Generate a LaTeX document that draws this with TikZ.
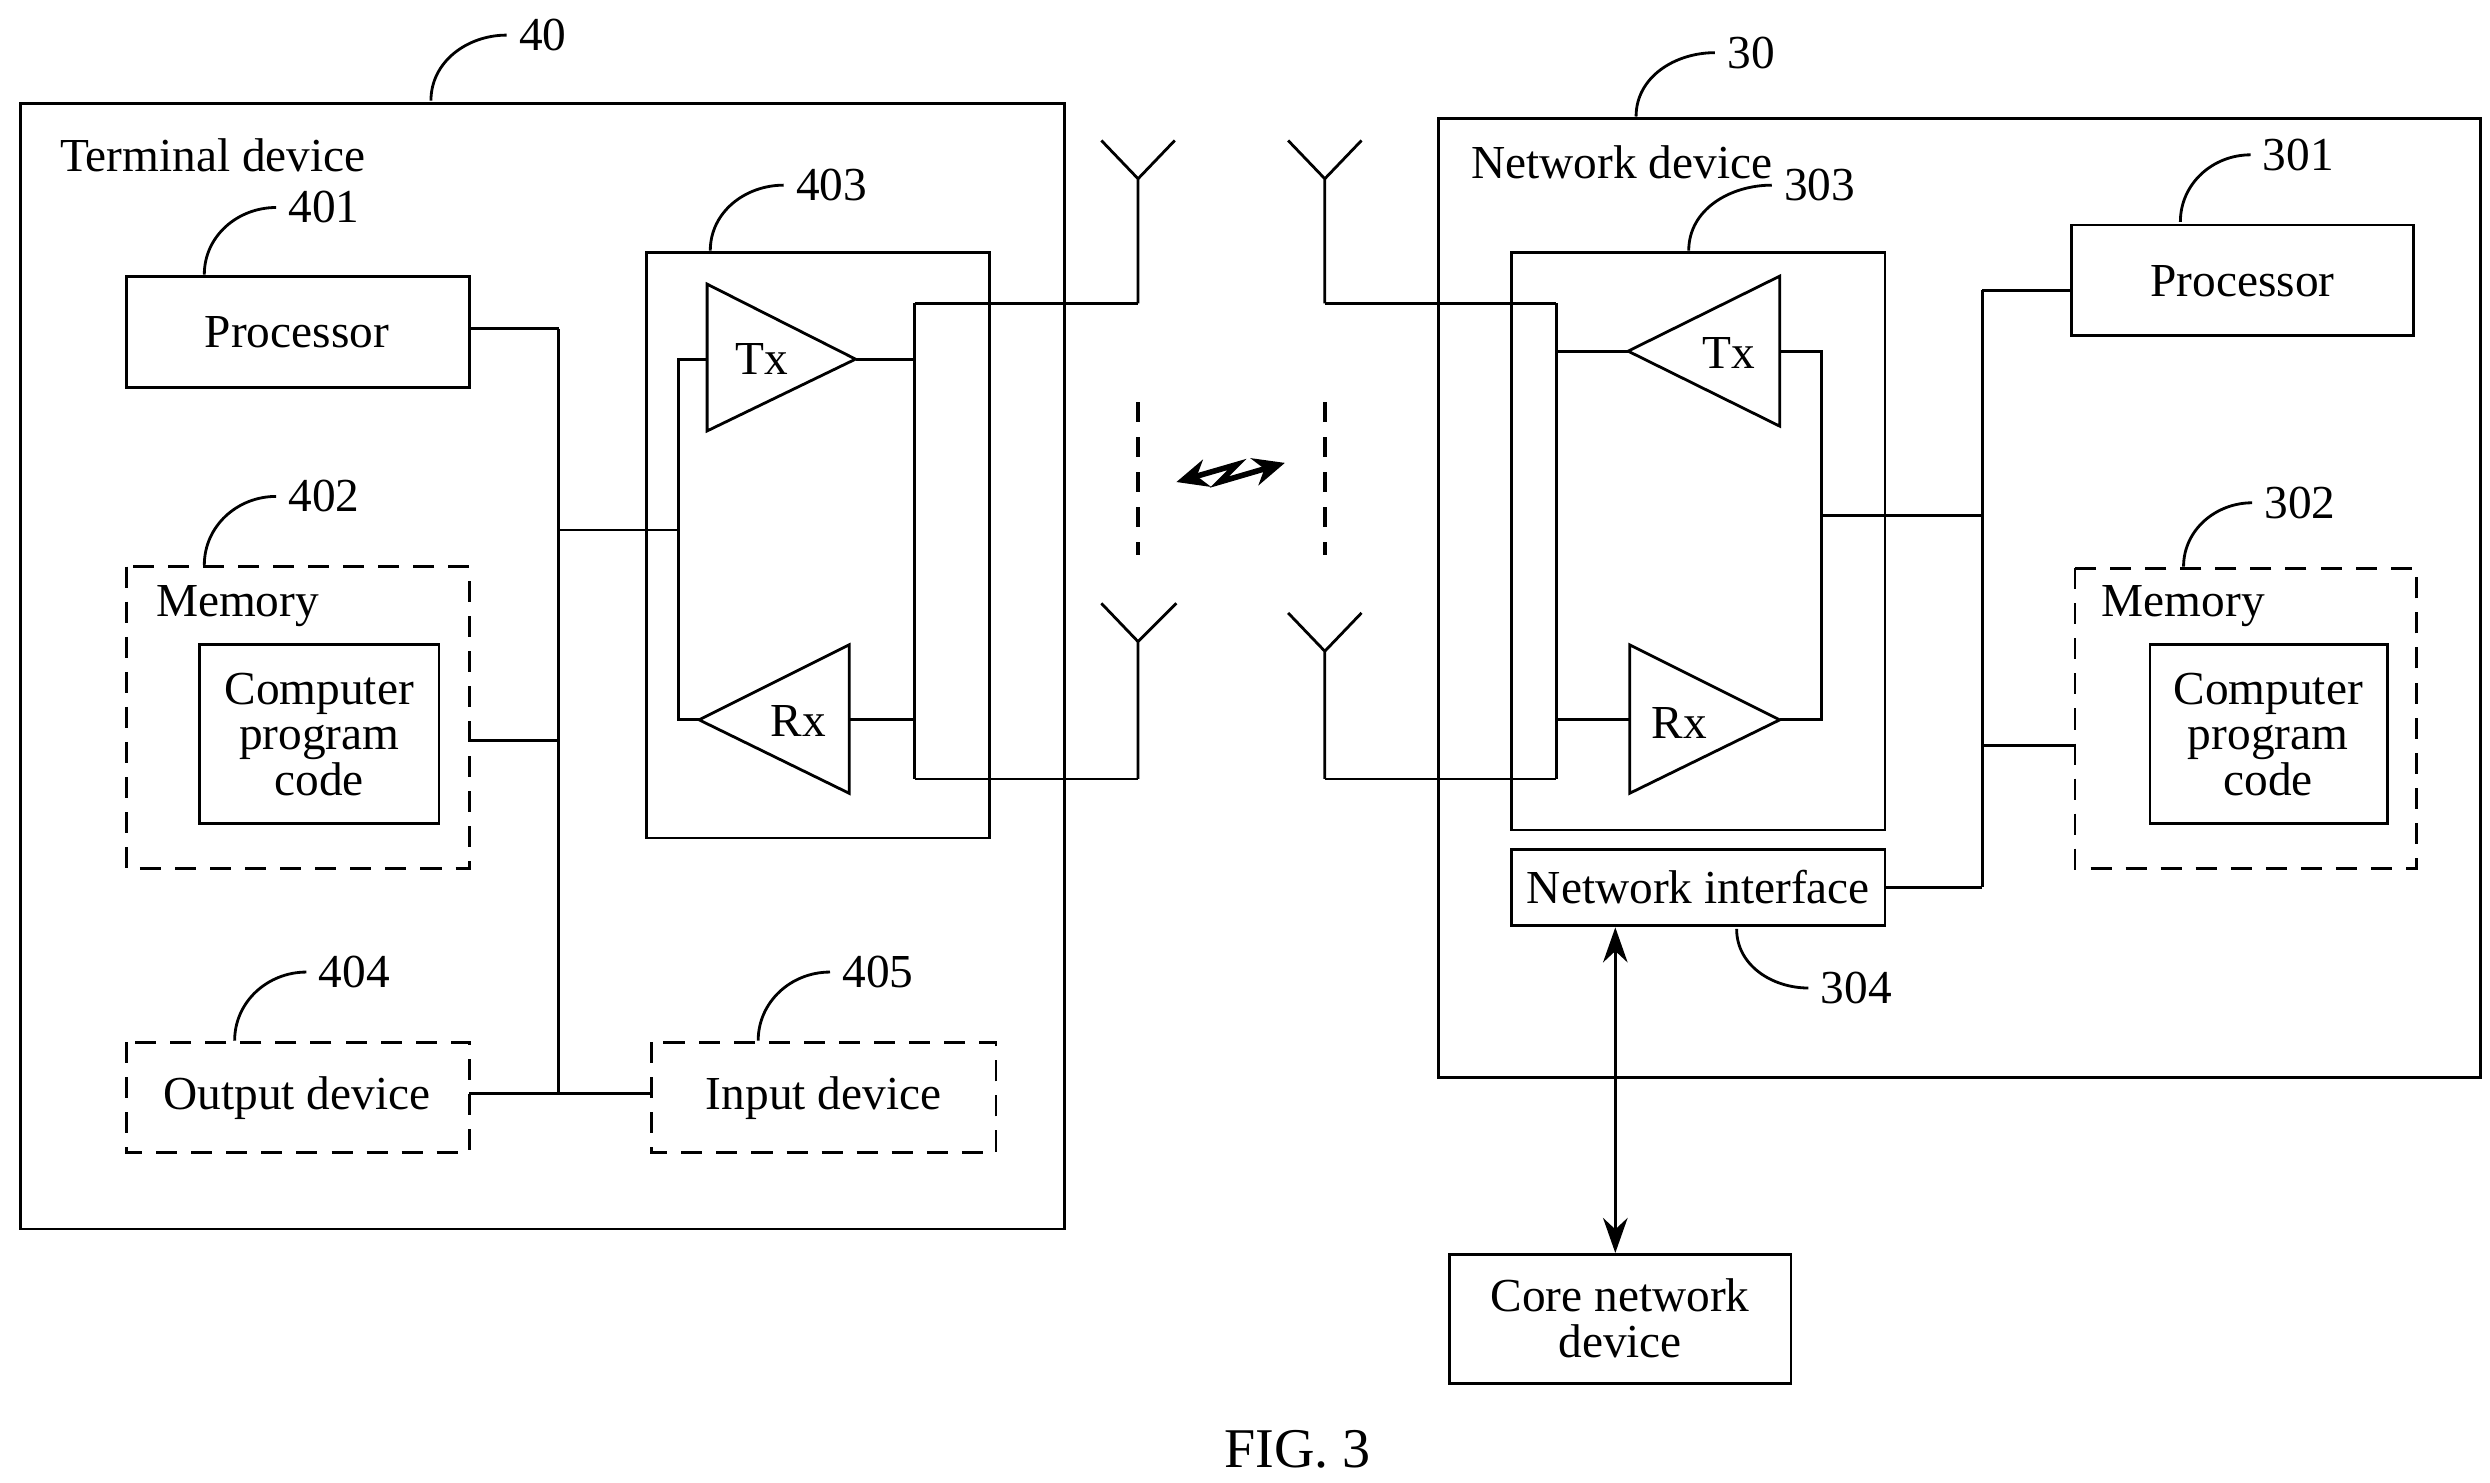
\documentclass[tikz,border=0pt]{standalone}
\usepackage{fontspec}
\setmainfont{Liberation Serif}
\usetikzlibrary{positioning,arrows.meta,calc}
\tikzset{
  box/.style={draw,thick,inner sep=0pt},
  dbox/.style={draw,thick,dashed,dash pattern=on 6pt off 4pt,inner sep=0pt},
  wire/.style={draw,thick},
  leader/.style={draw,thick},
  num/.style={font=\fontsize{13.5}{15}\selectfont},
  txt/.style={font=\fontsize{13.5}{15}\selectfont,align=center}
}
\begin{document}
\begin{tikzpicture}[x=0.16mm,y=-0.16mm,txt]
\useasboundingbox (0,0) rectangle (1560,929);

%terminal device 40
\draw[box] (13,65) rectangle (667,770);
\node[num] (l40) at (340,22) {40};
\draw[leader] (270,63) to[out=90,in=180] (l40.west);
\node[anchor=west] (tdev) at (30,97) {Terminal device};

\draw[box] (79,173) rectangle (294,243);
\node (proc1) at (186,208) {Processor};
\node[num] (l401) at (203,130) {401};
\draw[leader] (128,172) to[out=90,in=180] (l401.west);

\draw[dbox] (79,355) rectangle (294,544);
\node[anchor=west] (mem1) at (90,380) {Memory};
\draw[box] (125,404) rectangle (275,516);
\node[align=center,inner sep=0pt] (code1) at (200,460) {Computer\\[-2pt]program\\[-2pt]code};
\node[num] (l402) at (203,311) {402};
\draw[leader] (128,354) to[out=90,in=180] (l402.west);

\draw[dbox] (79,653) rectangle (294,722);
\node (out1) at (186,688) {Output device};
\node[num] (l404) at (222,609) {404};
\draw[leader] (147,652) to[out=90,in=180] (l404.west);

\draw[dbox] (408,653) rectangle (624,722);
\node (in1) at (516,688) {Input device};
\node[num] (l405) at (550,609) {405};
\draw[leader] (475,652) to[out=90,in=180] (l405.west);

%transceiver 403
\draw[box] (405,158) rectangle (620,525);
\node[num] (l403) at (521,116) {403};
\draw[leader] (445,157) to[out=90,in=180] (l403.west);
\draw[thick] (443,178) -- (536,225) -- (443,270) -- cycle;
\node (tx1) at (477,225) {Tx};
\draw[thick] (438,451) -- (532,404) -- (532,497) -- cycle;
\node (rx1) at (500,452) {Rx};
\draw[wire] (573,190) -- (573,488);
\draw[wire] (536,225) -- (573,225);
\draw[wire] (532,451) -- (573,451);
\draw[wire] (443,225) -- (425,225) -- (425,451) -- (438,451);
\draw[wire] (425,332) -- (350,332);
\draw[wire] (350,206) -- (350,685);
\draw[wire] (294,206) -- (350,206);
\draw[wire] (294,464) -- (350,464);
\draw[wire] (294,685) -- (408,685);

%antennas
\foreach \x/\ya/\yb in {713/190/112, 830/190/112}
  \draw[wire] (\x,\ya) -- (\x,\yb) -- (\x-23,88) (\x,\yb) -- (\x+23,88);
\draw[wire] (713,488) -- (713,402) -- (690,378) (713,402) -- (737,378);
\draw[wire] (830,488) -- (830,408) -- (807,384) (830,408) -- (853,384);
\draw[wire] (573,190) -- (713,190) (573,488) -- (713,488);
\draw[wire] (830,190) -- (975,190) (830,488) -- (975,488);
\foreach \x in {713,830}
  \draw[very thick,dash pattern=on 5.5pt off 4.5pt] (\x,252) -- (\x,348);
\draw[line width=1.6pt,{Stealth[length=9pt,width=8pt]}-{Stealth[length=9pt,width=8pt]}] (737,302) -- (775,291) -- (764,302) -- (805,290);

%network device 30
\draw[box] (901,74) rectangle (1554,675);
\node[num] (l30) at (1097,33) {30};
\draw[leader] (1025,73) to[out=90,in=180] (l30.west);
\node[anchor=west] (ndev) at (914,102) {Network device};

\draw[box] (947,158) rectangle (1181,520);
\node[num] (l303) at (1140,116) {303};
\draw[leader] (1058,157) to[out=90,in=180] (l303.west);
\draw[thick] (1020,220) -- (1115,173) -- (1115,267) -- cycle;
\node (tx2) at (1083,221) {Tx};
\draw[thick] (1021,404) -- (1115,451) -- (1021,497) -- cycle;
\node (rx2) at (1052,453) {Rx};
\draw[wire] (975,190) -- (975,488);
\draw[wire] (1020,220) -- (975,220);
\draw[wire] (1021,451) -- (975,451);
\draw[wire] (1115,220) -- (1141,220) -- (1141,451) -- (1115,451);
\draw[wire] (1141,323) -- (1242,323);
\draw[wire] (1242,182) -- (1242,556);

\draw[box] (1298,141) rectangle (1512,210);
\node (proc2) at (1405,176) {Processor};
\node[num] (l301) at (1440,97) {301};
\draw[leader] (1366,139) to[out=90,in=180] (l301.west);
\draw[wire] (1242,182) -- (1298,182);

\draw[dbox] (1300,356) rectangle (1514,544);
\node[anchor=west] (mem2) at (1309,380) {Memory};
\draw[box] (1347,404) rectangle (1496,516);
\node[align=center,inner sep=0pt] (code2) at (1421,460) {Computer\\[-2pt]program\\[-2pt]code};
\node[num] (l302) at (1441,315) {302};
\draw[leader] (1368,355) to[out=90,in=180] (l302.west);
\draw[wire] (1242,467) -- (1300,467);

\draw[box] (947,532) rectangle (1181,580);
\node (nif) at (1064,556) {Network interface};
\draw[wire] (1181,556) -- (1242,556);
\node[num] (l304) at (1163,619) {304};
\draw[leader] (1088,582) to[out=-90,in=180] (l304.west);

\draw[box] (908,786) rectangle (1122,867);
\node[align=center,inner sep=0pt] (core) at (1015,826) {Core network\\[-2pt]device};
\draw[thick,{Stealth[length=10pt,width=7pt]}-{Stealth[length=10pt,width=7pt]}] (1012,581) -- (1012,785);

\node[font=\fontsize{16}{18}\selectfont] (fig) at (813,908) {FIG. 3};
\end{tikzpicture}
\end{document}
